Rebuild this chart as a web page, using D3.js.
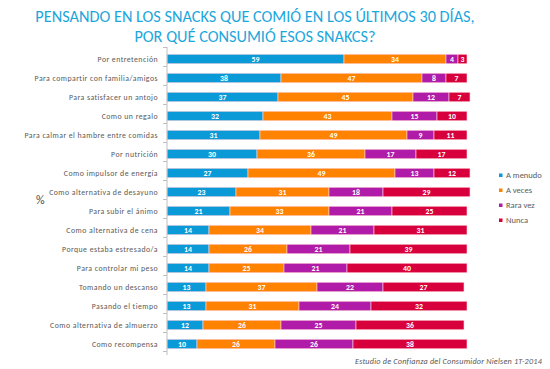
<!DOCTYPE html>
<html><head><meta charset="utf-8">
<script src="https://cdn.jsdelivr.net/npm/d3@7"></script>
<style>
body{margin:0;background:#fff;}
svg{display:block;font-family:Calibri,Carlito,"Open Sans",sans-serif;}
</style></head>
<body><svg id="c" width="550" height="369"></svg>
<script>
const categories = [
 "Por entretención","Para compartir con familia/amigos","Para satisfacer un antojo","Como un regalo",
 "Para calmar el hambre entre comidas","Por nutrición","Como impulsor de energía","Como alternativa de desayuno",
 "Para subir el ánimo","Como alternativa de cena","Porque estaba estresado/a","Para controlar mi peso",
 "Tomando un descanso","Pasando el tiempo","Como alternativa de almuerzo","Como recompensa"];
const seriesNames = ["A menudo","A veces","Rara vez","Nunca"];
const aMenudo = [59,38,37,32,31,30,27,23,21,14,14,14,13,13,12,10];
const aVeces  = [34,47,45,43,49,36,49,31,33,34,26,25,37,31,26,26];
const raraVez = [4,8,12,15,9,17,13,18,21,21,21,21,22,24,25,26];
const nunca   = [3,7,7,10,11,17,12,29,25,31,39,40,27,32,36,38];
const colors = ["#0a9ad7","#ff8200","#b01ca8","#d8003c"];
const titleLines = ["PENSANDO EN LOS SNACKS QUE COMIÓ EN LOS ÚLTIMOS 30 DÍAS,","POR QUÉ CONSUMIÓ ESOS SNAKCS?"];
const sourceText = "Estudio de Confianza del Consumidor Nielsen 1T-2014";

const svg = d3.select("#c");
const seriesVals = [aMenudo,aVeces,raraVez,nunca];
const rows = categories.map((c,i)=>{const o={cat:c}; seriesNames.forEach((s,j)=>o[s]=seriesVals[j][i]); return o;});
const stack = d3.stack().keys(seriesNames)(rows);

const x = d3.scaleLinear().domain([0,100]).range([167,467]);
const y = d3.scaleBand().domain(categories).range([49.5,353.5]).paddingInner(0.5).paddingOuter(0.25);

// title
svg.append("g").selectAll("text").data(titleLines).join("text")
 .attr("x",255).attr("y",(d,i)=>22+i*20).attr("text-anchor","middle")
 .attr("fill","#1ba6dc").attr("font-size",16.3).text(d=>d);

// bars
const g = svg.append("g");
stack.forEach((s,j)=>{
  const gg = g.append("g");
  gg.selectAll("rect").data(s).join("rect")
    .attr("x",d=>x(d[0])).attr("width",d=>x(d[1])-x(d[0]))
    .attr("y",(d,i)=>y(categories[i])).attr("height",y.bandwidth())
    .attr("fill",colors[j]).attr("stroke","#ffd6dc").attr("stroke-width",0.6);
  gg.selectAll("text").data(s).join("text")
    .attr("x",d=>(x(d[0])+x(d[1]))/2).attr("y",(d,i)=>y(categories[i])+y.bandwidth()/2+2.7)
    .attr("text-anchor","middle").attr("fill","#fff").attr("font-size",7.8).attr("font-weight","bold")
    .text(d=>d[1]-d[0]);
});

// axis
const ax = d3.axisLeft(y).tickSize(0).tickPadding(9);
const axg = svg.append("g").attr("transform","translate(167,0)").call(ax);
axg.select(".domain").attr("stroke","#bfbfbf").attr("d","M0,47V355");
axg.selectAll("text").attr("fill","#595959").attr("font-size",7.8).attr("letter-spacing",0.45)
  .attr("font-family","Calibri,Carlito,'Open Sans',sans-serif");
// tick marks between categories
const bounds = d3.range(categories.length+1).map(i=>49.5+i*y.step());
axg.selectAll(".sep").data(bounds).join("line").attr("class","sep")
  .attr("x1",-4).attr("x2",0).attr("y1",d=>d-2).attr("y2",d=>d-2).attr("stroke","#bfbfbf");

// % label
svg.append("text").attr("x",36).attr("y",204).attr("fill","#4d4d4d").attr("font-size",12).text("%");

// legend
const lg = svg.append("g").selectAll("g").data(seriesNames).join("g")
  .attr("transform",(d,i)=>`translate(499,${177+i*15})`);
lg.append("rect").attr("x",0).attr("y",-3.5).attr("width",3.5).attr("height",3.5).attr("fill",(d,i)=>colors[i]);
lg.append("text").attr("x",7).attr("y",1).attr("fill","#595959").attr("font-size",8.5).text(d=>d);

// source
svg.append("text").attr("x",542).attr("y",364).attr("text-anchor","end").attr("fill","#595959")
  .attr("font-size",8.2).attr("font-style","italic").attr("letter-spacing",0.2).text(sourceText);
</script></body></html>
